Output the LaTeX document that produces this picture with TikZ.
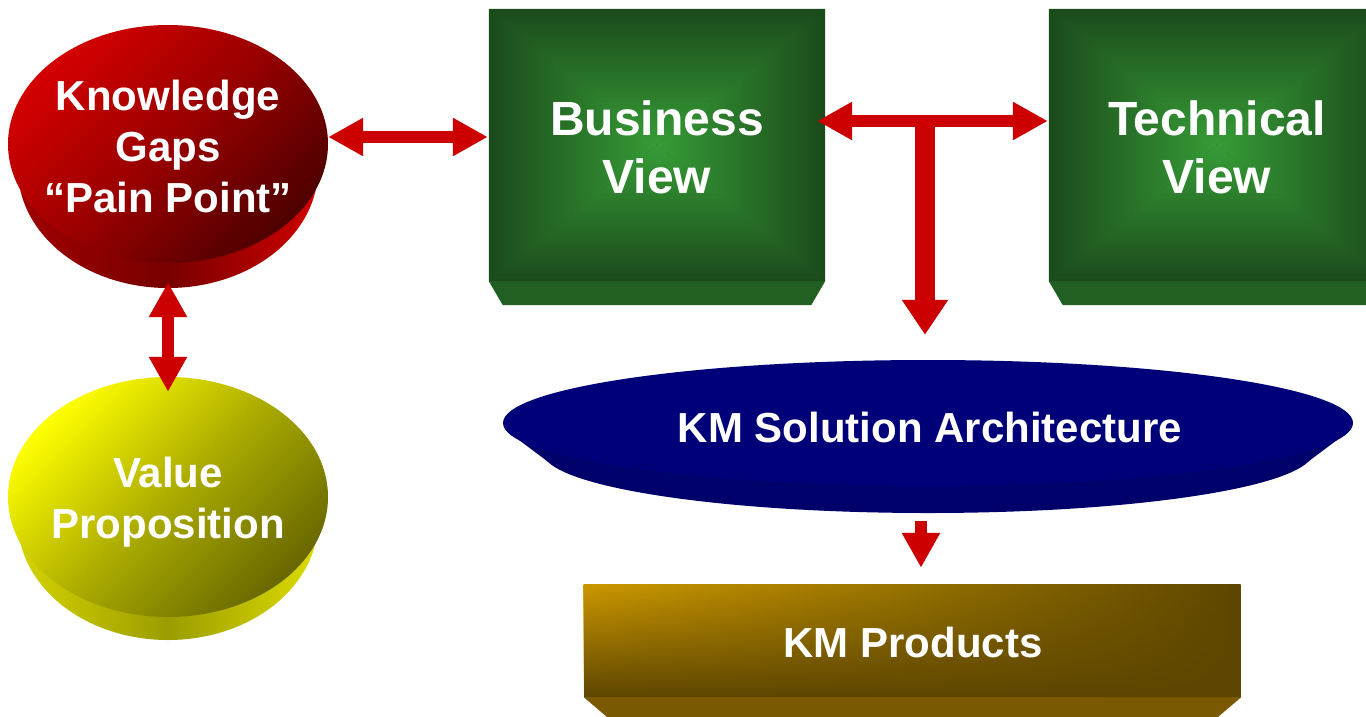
\documentclass[tikz,border=0pt]{standalone}
\usepackage{fontspec}
\setmainfont{Liberation Sans}
\usetikzlibrary{shapes.geometric,arrows.meta,calc,fadings}

\definecolor{arrowred}{HTML}{CC0000}
\definecolor{redhi}{HTML}{D40000}
\definecolor{redlo}{HTML}{4E0000}
\definecolor{redsideA}{HTML}{A00000}
\definecolor{redsideB}{HTML}{780000}
\definecolor{redsideC}{HTML}{D00000}
\definecolor{yelhi}{HTML}{FFFF00}
\definecolor{yello}{HTML}{686800}
\definecolor{yelsideA}{HTML}{D4D400}
\definecolor{yelsideB}{HTML}{9C9C00}
\definecolor{yelsideC}{HTML}{DCDC00}
\definecolor{gdark}{HTML}{1B4A1B}
\definecolor{glight}{HTML}{369C36}
\definecolor{gbevel}{HTML}{225F22}
\definecolor{navytop}{HTML}{000078}
\definecolor{navyside}{HTML}{00006A}
\definecolor{goldhi}{HTML}{CC9800}
\definecolor{goldmid}{HTML}{967200}
\definecolor{golddark}{HTML}{5E4600}
\definecolor{goldbevel}{HTML}{7A5900}

\tikzfading[name=fadedown, top color=transparent!0, middle color=transparent!20, bottom color=transparent!100]

\begin{document}
\begin{tikzpicture}[x=1pt,y=-1pt,
  lbl/.style={text=white, font=\bfseries\fontsize{42pt}{51pt}\selectfont, align=center, inner sep=0pt},
  biglbl/.style={lbl, font=\bfseries\fontsize{48pt}{58pt}\selectfont},
  disc/.style={ellipse, inner sep=0pt, draw=none},
  viewface/.style={rectangle, inner sep=0pt, minimum width=336pt, minimum height=272pt, fill=gdark},
  link/.style={draw=arrowred, line width=12pt,
    arrows={Triangle[width=36pt,length=35pt]-Triangle[width=36pt,length=35pt]}},
  stem/.style={draw=arrowred, line width=20pt, arrows={-Triangle[width=44pt,length=35pt]}},
  drop/.style={draw=arrowred, line width=12pt, arrows={-Triangle[width=36pt,length=35pt]}}
]
\useasboundingbox (0,0) rectangle (1366,716);
\clip (0,0) rectangle (1366,716);

% ---- Knowledge gaps disc ----
\node[disc, minimum width=300pt, minimum height=238pt,
  left color=redsideA, right color=redsideC, middle color=redsideB] (gapsSide) at (168,169) {};
\node[disc, minimum width=320pt, minimum height=238pt,
  top color=redhi, bottom color=redlo, middle color=red!60!black, shading angle=45] (gaps) at (168,144) {};
\node[lbl] (gapsText) at (168,146) {Knowledge\\Gaps\\“Pain Point”};

% ---- Value proposition disc ----
\node[disc, minimum width=300pt, minimum height=238pt,
  left color=yelsideA, right color=yelsideC, middle color=yelsideB] (valueSide) at (168,521) {};
\node[disc, minimum width=320pt, minimum height=240pt,
  top color=yelhi, bottom color=yello, middle color=yelhi!45!yello, shading angle=45] (value) at (168,497) {};
\node[lbl] (valueText) at (168,502) {Value\\Proposition};

% ---- Business and technical views ----
\foreach \v/\cx in {biz/657, tech/1217}{
  \node[viewface] (\v) at (\cx,145) {};
  \fill[gbevel] (\v.south west) -- (\v.south east)
    -- ([xshift=-14pt,yshift=-24pt]\v.south east)
    -- ([xshift=14pt,yshift=-24pt]\v.south west) -- cycle;
  \shade[top color=gdark, bottom color=glight]
    (\v.north west) -- (\v.north east) -- (\v.center) -- cycle;
  \shade[top color=glight, bottom color=gdark]
    (\v.south west) -- (\v.south east) -- (\v.center) -- cycle;
  \shade[left color=gdark, right color=glight]
    (\v.north west) -- (\v.south west) -- (\v.center) -- cycle;
  \shade[left color=glight, right color=gdark]
    (\v.north east) -- (\v.south east) -- (\v.center) -- cycle;
}
\node[biglbl] (bizText) at (657,147) {Business\\View};
\node[biglbl] (techText) at (1217,147) {Technical\\View};

% ---- KM solution architecture ----
\node[disc, minimum width=770pt, minimum height=122pt, fill=navyside] (archSide) at (928,452) {};
\fill[navyside] (519,440) -- (1337,440) -- (1301,467) -- (555,467) -- cycle;
\node[disc, minimum width=850pt, minimum height=126pt, fill=navytop] (arch) at (928,423) {};
\node[lbl] (archText) at (930,427) {KM Solution Architecture};

% ---- KM products ----
\node[rectangle, inner sep=0pt, minimum width=657pt, minimum height=112pt, fill=golddark] (prod) at (912.5,641) {};
\fill[goldbevel] (prod.south west) -- (prod.south east)
  -- ([xshift=-27pt,yshift=-23pt]prod.south east)
  -- ([xshift=27pt,yshift=-23pt]prod.south west) -- cycle;
\shade[left color=goldhi, right color=golddark, middle color=goldmid, path fading=fadedown]
  (prod.north west) rectangle (prod.south east);
\node[lbl] (prodText) at (913,642) {KM Products};

% ---- connectors ----
\draw[link] ([yshift=7pt]gaps.east) -- ([xshift=-1pt,yshift=8pt]biz.west);
\draw[link] ([yshift=6pt]gapsSide.south) -- ([yshift=-15pt]value.north);
\draw[link] ([xshift=-8pt,yshift=24pt]biz.east) -- ([xshift=-1pt,yshift=24pt]tech.west);
\coordinate (tee) at (925,115);
\draw[stem] (tee) -- ([yshift=25pt]tee |- arch.north);
\draw[drop] ([xshift=-7pt,yshift=-8pt]archSide.south) -- ([xshift=8.5pt,yshift=17pt]prod.north);
\end{tikzpicture}
\end{document}
